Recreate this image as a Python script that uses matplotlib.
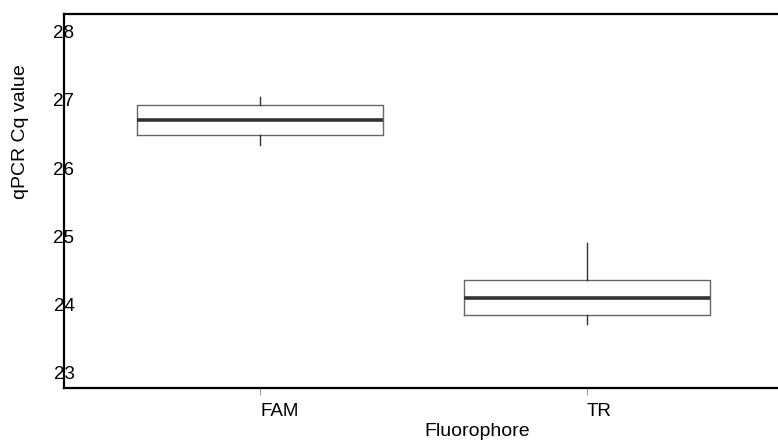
import matplotlib
matplotlib.use("Agg")
import matplotlib.pyplot as plt

plt.rcParams['font.family'] = ['Liberation Sans', 'DejaVu Sans']

# Cq summary per fluorophore
fluorophores = ['FAM', 'TR']
whisker_low = [26.34, 23.72]
q1 = [26.48, 23.85]
median = [26.71, 24.10]
q3 = [26.93, 24.36]
whisker_high = [27.05, 24.90]
y_ticks = [23, 24, 25, 26, 27, 28]

stats = []
for i, name in enumerate(fluorophores):
    stats.append({
        'label': name,
        'whislo': whisker_low[i],
        'q1': q1[i],
        'med': median[i],
        'q3': q3[i],
        'whishi': whisker_high[i],
        'fliers': [],
    })

fig = plt.figure(figsize=(7.78, 4.41), dpi=100)
# axes run off the right edge, no right frame line
ax = fig.add_axes([64 / 778, 1 - 388 / 441, 1 - 64 / 778 + 0.01, (388 - 14) / 441])

positions = list(range(1, len(fluorophores) + 1))
ax.bxp(stats, positions=positions, widths=0.752, showcaps=False,
       boxprops=dict(color='#666666', linewidth=1.0),
       medianprops=dict(color='#333333', linewidth=2.6, solid_capstyle='butt'),
       whiskerprops=dict(color='#333333', linewidth=1.0))

ax.set_xlim(0.4006, 2.584 + 0.01 * 778 / 327 * (2.584 - 0.4006) / (2.584 - 0.4006))
ax.set_ylim(22.78, 28.26)

ax.spines['right'].set_visible(False)
for side in ('left', 'top', 'bottom'):
    ax.spines[side].set_linewidth(1.6)
    ax.spines[side].set_color('black')

ax.set_yticks(y_ticks)
ax.set_yticklabels([str(t) for t in y_ticks])
ax.tick_params(axis='y', length=0, pad=0, labelsize=13.5)
for lbl in ax.get_yticklabels():
    lbl.set_ha('center')

ax.set_xticks(positions)
ax.set_xticklabels(fluorophores)
ax.tick_params(axis='x', length=5, width=0.6, color='#888888', pad=6, labelsize=13.5)
for lbl in ax.get_xticklabels():
    lbl.set_ha('left')

ax.set_xlabel('Fluorophore', fontsize=14)
ax.xaxis.label.set_va('center')
ax.set_ylabel('qPCR Cq value', fontsize=14)
ax.yaxis.label.set_va('center')

# label positions in pixels
fig.canvas.draw()
inv = ax.transAxes.inverted()
ax.xaxis.set_label_coords(*inv.transform((477, 441 - 432)), transform=ax.transAxes)
ax.yaxis.set_label_coords(*inv.transform((21, 441 - 132)), transform=ax.transAxes)

fig.savefig('out.png', dpi=100)
